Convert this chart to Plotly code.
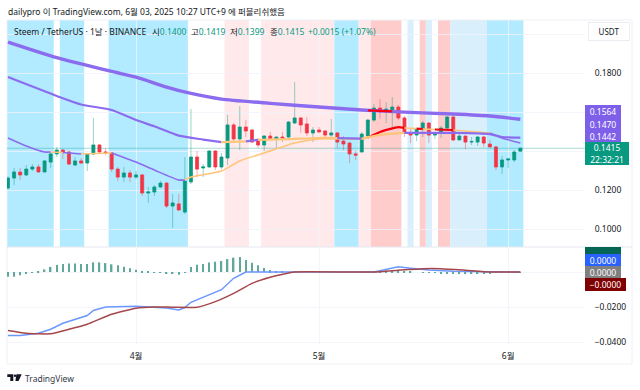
import pandas as pd
import plotly.graph_objects as go
from plotly.subplots import make_subplots

start_date = "2025-03-11"
opens = [.1211,.1262,.1293,.1278,.1308,.1319,.1293,.1344,.1386,.1406,.1396,.1329,.1350,.1339,.1386,.1432,.1396,.1391,.1308,.1267,.1288,.1267,.1278,.1185,.1190,.1216,.1236,.1118,.1129,.1087,
         .1242,.1370,.1314,.1319,.1401,.1319,.1365,.1535,.1463,.1524,.1509,.1452,.1432,.1478,.1463,.1473,.1473,.1545,.1571,.1540,.1494,.1509,.1504,.1483,.1494,.1452,.1442,.1386,.1396,.1478,
         .1560,.1622,.1602,.1607,.1627,.1571,.1494,.1483,.1514,.1545,.1483,.1494,.1519,.1576,.1458,.1478,.1447,.1447,.1473,.1437,.1422,.1319,.1355,.1355,.1400]
highs = [.1272,.1314,.1314,.1329,.1334,.1334,.1355,.1396,.1422,.1411,.1401,.1370,.1365,.1391,.1571,.1437,.1416,.1396,.1319,.1319,.1303,.1298,.1283,.1216,.1226,.1247,.1242,.1180,.1180,.1370,
         .1617,.1401,.1334,.1406,.1406,.1391,.1586,.1545,.1632,.1560,.1514,.1468,.1483,.1499,.1473,.1499,.1555,.1756,.1576,.1576,.1524,.1524,.1509,.1566,.1499,.1478,.1447,.1401,.1499,.1566,
         .1643,.1668,.1653,.1679,.1638,.1581,.1519,.1519,.1555,.1550,.1499,.1530,.1581,.1586,.1499,.1478,.1473,.1478,.1478,.1458,.1427,.1375,.1360,.1406,.1419]
lows = [.1201,.1226,.1252,.1272,.1298,.1293,.1293,.1314,.1370,.1360,.1329,.1324,.1334,.1298,.1380,.1391,.1380,.1293,.1247,.1242,.1242,.1257,.1170,.1134,.1170,.1211,.1108,.1005,.1093,.1077,
        .1231,.1267,.1267,.1314,.1303,.1308,.1329,.1442,.1406,.1473,.1442,.1416,.1401,.1458,.1411,.1447,.1468,.1540,.1494,.1478,.1447,.1494,.1473,.1458,.1416,.1406,.1339,.1355,.1396,.1463,
        .1550,.1566,.1545,.1519,.1560,.1473,.1442,.1452,.1473,.1442,.1463,.1468,.1514,.1452,.1458,.1411,.1432,.1427,.1422,.1422,.1303,.1283,.1314,.1344,.1399]
closes = [.1262,.1293,.1278,.1308,.1319,.1293,.1350,.1386,.1406,.1396,.1334,.1350,.1339,.1386,.1432,.1396,.1391,.1308,.1267,.1288,.1267,.1278,.1185,.1190,.1216,.1236,.1118,.1134,.1098,.1247,
          .1370,.1308,.1319,.1401,.1319,.1370,.1535,.1463,.1524,.1504,.1447,.1432,.1478,.1463,.1473,.1468,.1550,.1571,.1535,.1494,.1509,.1499,.1483,.1494,.1447,.1437,.1386,.1380,.1488,.1560,
          .1622,.1602,.1617,.1627,.1571,.1494,.1483,.1514,.1545,.1483,.1494,.1519,.1576,.1458,.1478,.1447,.1450,.1473,.1442,.1422,.1319,.1355,.1360,.1396,.1415]

line1_days = [0,8,17,21,26,30,35,43,51,58,65,73,79,84]
line1_values = [.1961,.1881,.1810,.1781,.1730,.1697,.1668,.1646,.1627,.1612,.1601,.1591,.1581,.1564]
line1_red_days = [59,63]
line1_red_values = [.1610,.1605]

line2_days = [0,8,12,17,21,24,28,32,35,39,41,46,51,54,58,61,65,73,79,81,84]
line2_values = [.1781,.1684,.1640,.1612,.1560,.1528,.1480,.1460,.1447,.1451,.1458,.1462,.1468,.1467,.1465,.1484,.1494,.1494,.1488,.1473,.1470]
line2_runs = [(0,35,"p"),(35,39,"o"),(39,41,"p"),(41,54,"o"),(54,58,"p"),(58,65,"o"),(65,84,"p")]

line3_days = [0,3,6,7,9,12,17,21,24,28,29,30,35,38,42,47,51,58,59,61,64,65,67,68,70,73,79,81,84]
line3_values = [.1468,.1427,.1396,.1396,.1393,.1386,.1391,.1344,.1303,.1252,.1252,.1267,.1298,.1350,.1391,.1442,.1463,.1463,.1470,.1499,.1524,.1519,.1516,.1514,.1512,.1509,.1494,.1468,.1442]
line3_runs = [(0,7,"p"),(7,9,"o"),(9,12,"p"),(12,17,"o"),(17,29,"p"),(29,59,"o"),(59,65,"r"),(65,67,"o"),(67,68,"r"),(68,70,"o"),(70,73,"r"),(73,79,"o"),(79,84,"p")]

band_states = ["c","w","c","w","c","w","l","w","l","c","l","k","w","b","w","k","b","w","k","b","c"]
band_counts = [8,1,4,4,13,6,4,2,12,4,2,5,1,1,1,1,1,1,2,6,6]

hist_values = [-.0027,-.0027,-.0019,-.0011,-.0004,.0002,.0015,.0029,.0040,.0046,.0048,.0048,.0046,.0046,.0055,.0055,.0051,.0044,.0038,.0030,.0021,.0013,.0004,.0001,-.0002,-.0004,-.0006,-.0011,-.0015,-.0002,
               .0029,.0042,.0046,.0055,.0059,.0063,.0074,.0082,.0086,.0069,.0053,.0038,.0023,.0011,.0004,.0001,0,0,0,0,0,0,0,0,0,0,0,0,.0001,.0002,
               .0004,.0006,.0008,.0008,.0006,.0004,.0002,0,-.0002,-.0003,-.0005,-.0008,-.0010,-.0012,-.0012,-.0012,-.0010,-.0010,-.0008,-.0006,-.0005,-.0004,-.0003,-.0002,-.0001]
macd_days = [0,2,5,7,9,11,13,14,16,21,24,26,28,29,30,32,35,37,39,60,62,64,66,69,73,79,84]
macd_values = [-.0363,-.0363,-.0350,-.0327,-.0293,-.0270,-.0249,-.0220,-.0200,-.0196,-.0203,-.0205,-.0217,-.0203,-.0173,-.0146,-.0101,-.0036,0,0,.0015,.0030,.0022,.0011,.0004,0,0]
signal_days = [0,3,7,10,13,17,21,24,27,31,34,37,40,43,46,47,60,64,68,71,75,79,84]
signal_values = [-.0334,-.0350,-.0353,-.0327,-.0298,-.0241,-.0207,-.0200,-.0201,-.0201,-.0169,-.0122,-.0065,-.0030,-.0006,0,0,.0010,.0019,.0019,.0010,0,0]

price_ticks = [.10,.12,.14,.16,.18,.20]
price_tick_labels = ["0.1000","0.1200","","","0.1800",""]
osc_ticks = [-.04,-.02,0]
osc_tick_labels = ["−0.0400","−0.0200",""]
month_dates = ["2025-04-01","2025-05-01","2025-06-01"]
month_labels = ["4월","5월","6월"]
last_close = .1415

GREEN, RED = "#089981", "#F23645"
LINE_COL = {"p":"#8B6CEF","o":"#FFC57A","r":"#F5000F"}
BAND_COL = {"c":"#B2EBFF","l":"#FFE9EB","k":"#FFCCCC","b":"#D9EFFB"}
FONT = "Noto Sans, Noto Sans CJK KR, sans-serif"
TEXT = "#131722"

t0 = pd.Timestamp(start_date)
day = lambda i: (t0 + pd.Timedelta(days=float(i))).round("s")
dates = [day(i) for i in range(len(opens))]
x_range = [day(-0.16), day(94.6)]

# pixel placement helpers for page furniture only
L, R, T, B = 7, 585, 20, 345
W, H = R - L, B - T
px = lambda x: (x - L) / W
py = lambda y: (B - y) / H

fig = make_subplots(rows=2, cols=1, shared_xaxes=True, vertical_spacing=0, row_heights=[227, 98])

fig.add_trace(go.Scatter(x=x_range, y=[last_close, last_close], mode="lines",
                         line=dict(color="rgba(8,153,129,0.35)", width=1), hoverinfo="skip", showlegend=False), row=1, col=1)
fig.add_trace(go.Candlestick(x=dates, open=opens, high=highs, low=lows, close=closes,
    increasing=dict(line=dict(color="rgba(8,153,129,0.42)", width=1), fillcolor="rgba(0,0,0,0)"),
    decreasing=dict(line=dict(color="rgba(242,54,69,0.42)", width=1), fillcolor="rgba(0,0,0,0)"),
    hoverinfo="skip", showlegend=False), row=1, col=1)
fig.add_trace(go.Candlestick(x=dates, open=opens, close=closes,
    high=[max(a, b) for a, b in zip(opens, closes)], low=[min(a, b) for a, b in zip(opens, closes)],
    increasing=dict(line=dict(color=GREEN, width=0.5), fillcolor=GREEN),
    decreasing=dict(line=dict(color=RED, width=0.5), fillcolor=RED),
    hoverinfo="skip", showlegend=False), row=1, col=1)

def add_runs(days, values, runs, width):
    for a, b, c in runs:
        pts = [(d, v) for d, v in zip(days, values) if a <= d <= b]
        fig.add_trace(go.Scatter(x=[day(d) for d, _ in pts], y=[v for _, v in pts], mode="lines",
                                 line=dict(color=LINE_COL[c], width=width if c != "r" else width + 0.5,
                                           shape="spline", smoothing=0.6),
                                 hoverinfo="skip", showlegend=False), row=1, col=1)

add_runs(line3_days, line3_values, line3_runs, 1.6)
add_runs(line2_days, line2_values, line2_runs, 2.2)
add_runs(line1_days, line1_values, [(0, 84, "p")], 3.4)
fig.add_trace(go.Scatter(x=[day(d) for d in line1_red_days], y=line1_red_values, mode="lines",
                         line=dict(color=LINE_COL["r"], width=2.4), hoverinfo="skip", showlegend=False), row=1, col=1)

fig.add_trace(go.Bar(x=dates, y=hist_values, width=86400000 * 0.24, marker=dict(color="#5FA89B", line=dict(width=0)),
                     hoverinfo="skip", showlegend=False), row=2, col=1)
fig.add_trace(go.Scatter(x=[day(d) for d in macd_days], y=macd_values, mode="lines",
                         line=dict(color="#6C97FF", width=1.5), hoverinfo="skip", showlegend=False), row=2, col=1)
fig.add_trace(go.Scatter(x=[day(d) for d in signal_days], y=signal_values, mode="lines",
                         line=dict(color="#A4474A", width=1.5, shape="spline", smoothing=0.5), hoverinfo="skip", showlegend=False), row=2, col=1)

shapes = []
pos = 0
for s, n in zip(band_states, band_counts):
    if s != "w":
        shapes.append(dict(type="rect", xref="x", yref="y domain", x0=day(pos - 0.5), x1=day(pos + n - 0.5),
                           y0=0, y1=1, fillcolor=BAND_COL[s], line_width=0, layer="below"))
    pos += n
frame = "#EEF0F5"
shapes.append(dict(type="rect", xref="paper", yref="paper", x0=0, x1=px(632), y0=py(364), y1=py(20),
                   line=dict(color=frame, width=1), layer="below"))
shapes.append(dict(type="line", xref="paper", yref="paper", x0=0, x1=px(632), y0=py(247), y1=py(247),
                   line=dict(color="#E6E8F0", width=1), layer="below"))
logo = "#131722"
def poly(points):
    return "M" + " L".join(f"{px(x)},{py(y)}" for x, y in points) + " Z"
shapes.append(dict(type="path", xref="paper", yref="paper", fillcolor=logo, line_width=0,
                   path=poly([(7.3,374.2),(13.3,374.2),(13.3,381),(10.3,381),(10.3,377),(7.3,377)])))
shapes.append(dict(type="path", xref="paper", yref="paper", fillcolor=logo, line_width=0,
                   path=poly([(16.4,374.2),(21.7,374.2),(18.6,381),(15.4,381)])))
shapes.append(dict(type="circle", xref="paper", yref="paper", fillcolor=logo, line_width=0,
                   x0=px(13.8), x1=px(16.2), y0=py(377), y1=py(374.4)))

ann = []
def note(x, y, text, size=8.5, color=TEXT, **kw):
    ann.append(dict(xref="paper", yref="paper", x=px(x), y=py(y), text=text, showarrow=False, xanchor=kw.pop("xanchor", "left"),
                    yanchor=kw.pop("yanchor", "middle"), borderpad=0, font=dict(family=FONT, size=size, color=color), **kw))

note(7, 11, "dailypro 이 TradingView.com, 6월 03, 2025 10:27 UTC+9 에 퍼블리쉬했음")
note(13, 31, "Steem / TetherUS · 1날 · BINANCE")
for x, lab, val in [(151, "시", "0.1400"), (190, "고", "0.1419"), (229, "저", "0.1399"), (269, "종", "0.1415")]:
    note(x, 31, f'{lab}<span style="color:{GREEN}">{val}</span>')
note(307, 31, "+0.0015 (+1.07%)", 8.5, GREEN)

def tag(y0, y1, text, bg, width=36, size=8.5, color="white"):
    ann.append(dict(xref="paper", yref="paper", x=px(585), y=py(y0), xanchor="left", yanchor="top", text=text, showarrow=False,
                    width=width, height=y1 - y0, align="center", valign="middle", bgcolor=bg, borderpad=0, borderwidth=0,
                    font=dict(family=FONT, size=size, color=color)))

tag(105, 118, "0.1564", "#7E5FEA")
tag(118, 131, "0.1470", "#7E5FEA")
tag(131, 142, "0.1442", "#7E5FEA")
tag(142, 165, "0.1415<br>22:32:21", "#089981", width=44)
tag(247, 254, " ", "#056656")
tag(254, 266, "0.0000", "#2962FF")
tag(266, 278, "0.0000", "#808080")
tag(278, 291, "−0.0000", "#7F0000", width=41)
ann.append(dict(xref="paper", yref="paper", x=px(608.5), y=py(31), text="USDT", showarrow=False, xanchor="center", yanchor="middle",
                width=40, height=17, bgcolor="white", bordercolor="#EBEDF2", borderwidth=1, borderpad=0,
                font=dict(family=FONT, size=8, color=TEXT)))
note(24, 378, "TradingView", 8.5, "#333744")

fig.update_layout(width=640, height=390, autosize=False, margin=dict(l=L, r=640 - R, t=T, b=390 - B),
                  paper_bgcolor="white", plot_bgcolor="white", showlegend=False, shapes=shapes, annotations=ann,
                  barmode="overlay", font=dict(family=FONT, size=8.5, color=TEXT))
grid = "rgba(240,243,250,0.8)"
fig.update_xaxes(range=x_range, rangeslider_visible=False, showgrid=True, gridcolor=grid, gridwidth=1, zeroline=False,
                 tickmode="array", tickvals=month_dates, ticktext=month_labels, showline=False,
                 tickfont=dict(family=FONT, size=8.5, color=TEXT), ticks="outside", ticklen=3, tickcolor="rgba(0,0,0,0)")
fig.update_yaxes(side="right", showgrid=True, gridcolor=grid, gridwidth=1, zeroline=False, showline=False,
                 ticks="outside", ticklen=7, tickcolor="rgba(0,0,0,0)",
                 tickfont=dict(family=FONT, size=8.5, color=TEXT))
fig.update_yaxes(range=[.09075, .20746], tickmode="array", tickvals=price_ticks, ticktext=price_tick_labels, row=1, col=1)
fig.update_yaxes(range=[-.0417, .01429], tickmode="array", tickvals=osc_ticks, ticktext=osc_tick_labels, row=2, col=1)

fig.write_html("out.html", config=dict(displayModeBar=False), post_script="document.body.style.margin='0';")
